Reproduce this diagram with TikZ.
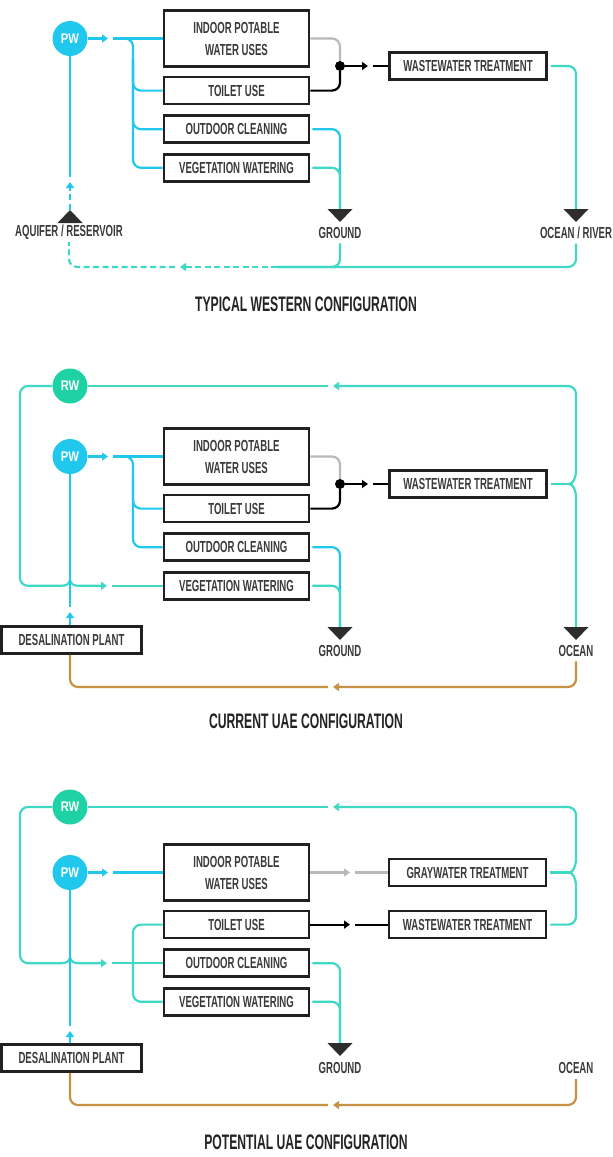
\documentclass[tikz,border=0pt]{standalone}
\usepackage{fontspec}
\usepackage{tikz}
\usetikzlibrary{positioning,shapes.geometric,arrows.meta,calc}
\newfontfamily\boxfont[FakeStretch=0.6]{Liberation Sans}
\newfontfamily\headfont[FakeStretch=0.58]{Liberation Sans}
\newfontfamily\circfont[FakeStretch=0.8]{Liberation Sans}
\definecolor{pwcyan}{RGB}{32,200,238}
\definecolor{rwgreen}{RGB}{30,210,165}
\definecolor{rwteal}{RGB}{62,216,196}
\definecolor{ink}{RGB}{58,58,58}
\definecolor{edge}{RGB}{32,32,32}
\definecolor{markgray}{RGB}{45,45,45}
\definecolor{grayflow}{RGB}{185,185,185}
\definecolor{brownflow}{RGB}{196,146,66}
\tikzstyle{block} = [rectangle, draw=edge, line width=2.6pt, text=ink,
    font=\boxfont\bfseries\fontsize{16}{22}\selectfont, align=center,
    minimum width=145pt, minimum height=27pt, inner sep=0pt]
\tikzstyle{tall} = [block, minimum height=56pt]
\tikzstyle{treat} = [block, minimum width=157pt]
\tikzstyle{plant} = [block, minimum width=140pt]
\tikzstyle{water} = [circle, fill=pwcyan, text=white, minimum size=35pt, inner sep=0pt,
    font=\circfont\bfseries\fontsize{14}{14}\selectfont]
\tikzstyle{dot} = [circle, fill=black, minimum size=10pt, inner sep=0pt]
\tikzstyle{tag} = [text=ink, font=\boxfont\bfseries\fontsize{16}{18}\selectfont, inner sep=2pt]
\tikzstyle{heading} = [text={rgb,255:red,35;green,35;blue,35}, font=\headfont\bfseries\fontsize{21}{24}\selectfont]
\tikzstyle{sink} = [minimum width=25pt, minimum height=13pt, inner sep=0pt,
    path picture={\fill[markgray] (path picture bounding box.north west) -- (path picture bounding box.north east) -- (path picture bounding box.south) -- cycle;}]
\tikzstyle{riser} = [minimum width=25pt, minimum height=13pt, inner sep=0pt,
    path picture={\fill[markgray] (path picture bounding box.south west) -- (path picture bounding box.south east) -- (path picture bounding box.north) -- cycle;}]
\tikzstyle{pwline} = [color=pwcyan, line width=2.2pt]
\tikzstyle{rwline} = [color=rwteal, line width=2.2pt]
\tikzstyle{greyline} = [color=grayflow, line width=2.2pt]
\tikzstyle{blackline} = [color=black, line width=2.2pt]
\tikzstyle{brownline} = [color=brownflow, line width=2.2pt]
\tikzstyle{flowtip} = [-{Triangle[length=6pt,width=8pt]}]
\tikzstyle{gap} = [shorten <=5pt]
\tikzstyle{broken} = [dash pattern=on 6pt off 3.5pt]

\begin{document}
\begin{tikzpicture}[x=1pt, y=-1pt]
    \useasboundingbox (0,0) rectangle (613,1157);
    % ---- typical western configuration ----
    % Place nodes
    \node [water] (1pw) at (70,38.5) {PW};
    \node [tall] (1in) at (236.5,38.5) {INDOOR POTABLE\\WATER USES};
    \node [block, below=8pt of 1in] (1to) {TOILET USE};
    \node [block, below=9pt of 1to] (1od) {OUTDOOR CLEANING};
    \node [block, below=9pt of 1od] (1ve) {VEGETATION WATERING};
    \node [dot] (1dot) at (340,66) {};
    \node [treat, right=43pt of 1dot] (1ww) {WASTEWATER TREATMENT};
    \node [sink] (1gd) at (340,215.5) {};
    \node [tag] (1gdt) at (340,232.5) {GROUND};
    \node [sink] (1sea) at (576,215.5) {};
    \node [tag] (1seat) at (576,232.5) {OCEAN / RIVER};
    \node [riser] (1aq) at (70,216.5) {};
    \node [tag] (1aqt) at (69,232.5) {AQUIFER / RESERVOIR};
    \node [heading] (1ti) at (306,304) {TYPICAL WESTERN CONFIGURATION};
    \coordinate (1tip) at (108,38.5);
    \coordinate (1sp) at (133,38.5);
    \coordinate (1tipw) at (368,66);
    \coordinate (1dash) at (277,267);
    \coordinate (1tipd) at (180,267);
    \coordinate (1up) at (70,182);
    % Draw edges
    \draw [pwline, flowtip] (1pw) -- (1tip);
    \draw [pwline, gap] (1tip) -- (1in.west);
    \draw [pwline, gap, rounded corners=8pt] (1tip) -- (1sp) |- (1ve.west);
    \draw [pwline, rounded corners=8pt] ($(1sp)+(0,20)$) |- (1to.west);
    \draw [pwline, rounded corners=8pt] ($(1sp)+(0,20)$) |- (1od.west);
    \draw [greyline, rounded corners=8pt] (1in.east) -| (1dot.north);
    \draw [blackline, rounded corners=8pt] (1to.east) -| (1dot.south);
    \draw [blackline, flowtip] (1dot) -- (1tipw);
    \draw [blackline, gap] (1tipw) -- (1ww.west);
    \draw [rwline, rounded corners=8pt, shorten <=3pt] (1ww.east) -| (1sea.north);
    \draw [pwline, rounded corners=8pt, shorten <=2pt] (1od.east) -| (1gd.north);
    \draw [rwline, rounded corners=8pt, shorten <=2pt] (1ve.east) -| (1gd.north);
    \draw [rwline, rounded corners=8pt, shorten <=3pt] (1seat.south) |- (1dash);
    \draw [rwline, rounded corners=8pt, shorten <=3pt] (1gdt.south) |- (1dash);
    \draw [rwline, broken, flowtip] (1dash) -- (1tipd);
    \draw [rwline, broken, gap, rounded corners=8pt] (1tipd) -| (1aqt.south);
    \draw [pwline, broken, flowtip] (1aq) -- (1up);
    \draw [pwline, gap] (1up) -- (1pw);

    % ---- current UAE configuration ----
    % Place nodes
    \node [water, fill=rwgreen] (2rw) at (70,386) {RW};
    \node [water] (2pw) at (70,456.5) {PW};
    \node [tall] (2in) at (236.5,456.5) {INDOOR POTABLE\\WATER USES};
    \node [block, below=8pt of 2in] (2to) {TOILET USE};
    \node [block, below=9pt of 2to] (2od) {OUTDOOR CLEANING};
    \node [block, below=9pt of 2od] (2ve) {VEGETATION WATERING};
    \node [dot] (2dot) at (340,484) {};
    \node [treat, right=43pt of 2dot] (2ww) {WASTEWATER TREATMENT};
    \node [plant] (2de) at (71.5,640) {DESALINATION PLANT};
    \node [sink] (2gd) at (340,633.5) {};
    \node [tag] (2gdt) at (340,650.5) {GROUND};
    \node [sink] (2sea) at (576,633.5) {};
    \node [tag] (2seat) at (576,650.5) {OCEAN};
    \node [heading] (2ti) at (306,721) {CURRENT UAE CONFIGURATION};
    \coordinate (2tip) at (108,456.5);
    \coordinate (2sp) at (133,456.5);
    \coordinate (2tipw) at (368,484);
    \coordinate (2cusp) at (569,484);
    \coordinate (2brb) at (576,498);
    \coordinate (2brt) at (576,470);
    \coordinate (2tipr) at (333,386);
    \coordinate (2lc) at (20,0 |- 2ve);
    \coordinate (2jl) at ($(2lc)+(41,0)$);
    \coordinate (2jb) at ($(2lc)+(50,-5.5)$);
    \coordinate (2jr) at ($(2lc)+(59,0)$);
    \coordinate (2tipv) at ($(2lc)+(87,0)$);
    \coordinate (2up) at (70,612);
    \coordinate (2tipb) at (333,687);
    % Draw edges
    \draw [pwline, flowtip] (2pw) -- (2tip);
    \draw [pwline, gap] (2tip) -- (2in.west);
    \draw [pwline, gap, rounded corners=8pt] (2tip) -- (2sp) |- (2od.west);
    \draw [pwline, rounded corners=8pt] ($(2sp)+(0,20)$) |- (2to.west);
    \draw [greyline, rounded corners=8pt] (2in.east) -| (2dot.north);
    \draw [blackline, rounded corners=8pt] (2to.east) -| (2dot.south);
    \draw [blackline, flowtip] (2dot) -- (2tipw);
    \draw [blackline, gap] (2tipw) -- (2ww.west);
    \draw [rwline, shorten <=3pt] (2ww.east) -- (2cusp);
    \draw [rwline] (2sea.north) -- (2brb) .. controls +(0,-8) and +(4,0) .. (2cusp)
        .. controls +(4,0) and +(0,8) .. (2brt);
    \draw [rwline, flowtip, rounded corners=8pt] (2brt) |- (2tipr);
    \draw [rwline, gap] (2tipr) -- (2rw);
    \draw [rwline, rounded corners=8pt] (2rw) -| (2lc) -- (2jl);
    \draw [rwline, flowtip] (2jl) .. controls +(5,0) and +(-1,4) .. (2jb)
        .. controls +(1,4) and +(-5,0) .. (2jr) -- (2tipv);
    \draw [rwline, gap] (2tipv) -- (2ve.west);
    \draw [pwline, flowtip] (2up |- 2de.north) -- (2up);
    \draw [pwline, gap] (2up) -- (2pw);
    \draw [pwline, rounded corners=8pt, shorten <=2pt] (2od.east) -| (2gd.north);
    \draw [rwline, rounded corners=8pt, shorten <=2pt] (2ve.east) -| (2gd.north);
    \draw [brownline, flowtip, rounded corners=8pt, shorten <=3pt] (2seat.south) |- (2tipb);
    \draw [brownline, gap, rounded corners=8pt] (2tipb) -| (2up |- 2de.south);

    % ---- potential UAE configuration ----
    % Place nodes
    \node [water, fill=rwgreen] (3rw) at (70,807) {RW};
    \node [water] (3pw) at (70,872.5) {PW};
    \node [tall] (3in) at (236.5,872.5) {INDOOR POTABLE\\WATER USES};
    \node [block, below=8pt of 3in] (3to) {TOILET USE};
    \node [block, below=9pt of 3to] (3od) {OUTDOOR CLEANING};
    \node [block, below=9pt of 3od] (3ve) {VEGETATION WATERING};
    \node [treat] (3gw) at (467.5,872.5) {GRAYWATER TREATMENT};
    \node [treat] (3ww) at (467.5,0 |- 3to) {WASTEWATER TREATMENT};
    \node [plant] (3de) at (71.5,1058) {DESALINATION PLANT};
    \node [sink] (3gd) at (340,1049.5) {};
    \node [tag] (3gdt) at (340,1068) {GROUND};
    \node [tag] (3seat) at (576,1068) {OCEAN};
    \node [heading] (3ti) at (306,1142) {POTENTIAL UAE CONFIGURATION};
    \coordinate (3tip) at (108,872.5);
    \coordinate (3tipg) at (350,872.5);
    \coordinate (3tipk) at (350,0 |- 3to);
    \coordinate (3cusp) at (569,872.5);
    \coordinate (3brb) at (576,886.5);
    \coordinate (3brt) at (576,858.5);
    \coordinate (3tipr) at (333,807);
    \coordinate (3lc) at (20,0 |- 3od);
    \coordinate (3jl) at ($(3lc)+(41,0)$);
    \coordinate (3jb) at ($(3lc)+(50,-5.5)$);
    \coordinate (3jr) at ($(3lc)+(59,0)$);
    \coordinate (3tipo) at ($(3lc)+(87,0)$);
    \coordinate (3bc) at (133,0 |- 3ve);
    \coordinate (3up) at (70,1031);
    \coordinate (3tipb) at (333,1105);
    % Draw edges
    \draw [pwline, flowtip] (3pw) -- (3tip);
    \draw [pwline, gap] (3tip) -- (3in.west);
    \draw [greyline, flowtip] (3in.east) -- (3tipg);
    \draw [greyline, gap] (3tipg) -- (3gw.west);
    \draw [blackline, flowtip] (3to.east) -- (3tipk);
    \draw [blackline, gap] (3tipk) -- (3ww.west);
    \draw [rwline, shorten <=3pt] (3gw.east) -- (3cusp);
    \draw [rwline, shorten <=3pt, rounded corners=8pt] (3ww.east) -| (3brb);
    \draw [rwline] (3brb) .. controls +(0,-8) and +(4,0) .. (3cusp)
        .. controls +(4,0) and +(0,8) .. (3brt);
    \draw [rwline, flowtip, rounded corners=8pt] (3brt) |- (3tipr);
    \draw [rwline, gap] (3tipr) -- (3rw);
    \draw [rwline, rounded corners=8pt] (3rw) -| (3lc) -- (3jl);
    \draw [rwline, flowtip] (3jl) .. controls +(5,0) and +(-1,4) .. (3jb)
        .. controls +(1,4) and +(-5,0) .. (3jr) -- (3tipo);
    \draw [rwline, gap] (3tipo) -- (3od.west);
    \draw [rwline, rounded corners=8pt] (3to.west) -| (3bc) -- (3ve.west);
    \draw [pwline, flowtip] (3up |- 3de.north) -- (3up);
    \draw [pwline, gap] (3up) -- (3pw);
    \draw [rwline, rounded corners=8pt, shorten <=2pt] (3od.east) -| (3gd.north);
    \draw [rwline, rounded corners=8pt, shorten <=2pt] (3ve.east) -| (3gd.north);
    \draw [brownline, flowtip, rounded corners=8pt, shorten <=3pt] (3seat.south) |- (3tipb);
    \draw [brownline, gap, rounded corners=8pt] (3tipb) -| (3up |- 3de.south);
\end{tikzpicture}
\end{document}
